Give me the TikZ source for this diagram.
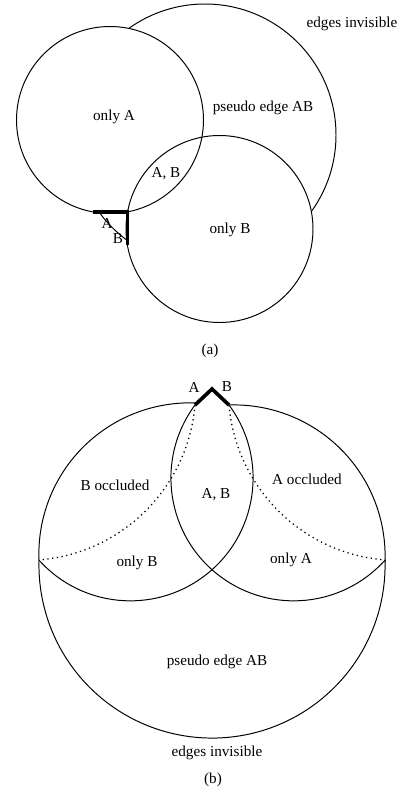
\documentclass[tikz,border=0pt]{standalone}
\usepackage{fontspec}
\setmainfont{Liberation Serif}
\usetikzlibrary{calc}

\begin{document}
\begin{tikzpicture}[x=0.025cm,y=-0.025cm,
  ln/.style={line width=0.7pt},
  heavy/.style={line width=2.6pt,line join=miter},
  dots/.style={line width=0.9pt,dash pattern=on 0.9pt off 2.5pt},
  lbl/.style={font=\fontsize{10.8}{13}\selectfont,inner sep=0pt}]
  \useasboundingbox (0,0) rectangle (399,790);
  % (a): two face circles and the pseudo edge behind them
  \coordinate (cA) at (110,120);
  \coordinate (cB) at (219.5,229);
  \coordinate (cP) at (205,135);
  \draw[ln] (cP) circle[radius=131];
  \fill[white] (cA) circle[radius=93.5];
  \fill[white] (cB) circle[radius=93.5];
  \draw[ln] (cA) circle[radius=93.5];
  \draw[ln] (cB) circle[radius=93.5];
  \coordinate (ea) at (93,212);
  \coordinate (eab) at (127.5,212);
  \coordinate (eb) at (127.5,245);
  \draw[heavy] (ea) -- (eab) -- (eb);
  \node[lbl] (invA) at (352,24) {edges invisible};
  \node[lbl] (pseA) at (263,108) {pseudo edge AB};
  \node[lbl] (onlyAa) at (114,117) {only A};
  \node[lbl] (bothA) at (166,174) {A, B};
  \node[lbl] (onlyBa) at (230,230) {only B};
  \node[lbl] (labA) at (107,223.5) {A};
  \node[lbl] (labB) at (118,239) {B};
  \node[lbl] (capA) at (210,351) {(a)};
  % (b): silhouette seen from the other side
  \coordinate (pl) at (39,560);
  \coordinate (pr) at (385,560);
  \coordinate (vl) at (195,405);
  \coordinate (vt) at (212,389);
  \coordinate (vr) at (229,405);
  \draw[ln] (pr) arc[start angle=-1.66,end angle=181.66,radius=173.07];
  \draw[ln] (pl) arc[start angle=177.7,end angle=271.9,radius=151.1];
  \draw[ln] (vr) arc[start angle=-91.9,end angle=2.3,radius=151.1];
  \draw[ln] (vl) arc[start angle=216.5,end angle=41.9,radius=122.8];
  \draw[ln] (vr) arc[start angle=-36.5,end angle=138.1,radius=122.8];
  \draw[dots] (vl) arc[start angle=4.9,end angle=85.5,radius=170];
  \draw[dots] (vr) arc[start angle=175.1,end angle=94.5,radius=170];
  \draw[heavy] (vl) -- (vt) -- (vr);
  \node[lbl] (labAb) at (194,387) {A};
  \node[lbl] (labBb) at (227,387) {B};
  \node[lbl] (occB) at (115,485) {B occluded};
  \node[lbl] (occA) at (307,479) {A occluded};
  \node[lbl] (bothB) at (216,495) {A, B};
  \node[lbl] (onlyBb) at (137,563) {only B};
  \node[lbl] (onlyAb) at (291,560) {only A};
  \node[lbl] (pseB) at (217,662) {pseudo edge AB};
  \node[lbl] (invB) at (217,753) {edges invisible};
  \node[lbl] (capB) at (213,780) {(b)};
\end{tikzpicture}
\end{document}
